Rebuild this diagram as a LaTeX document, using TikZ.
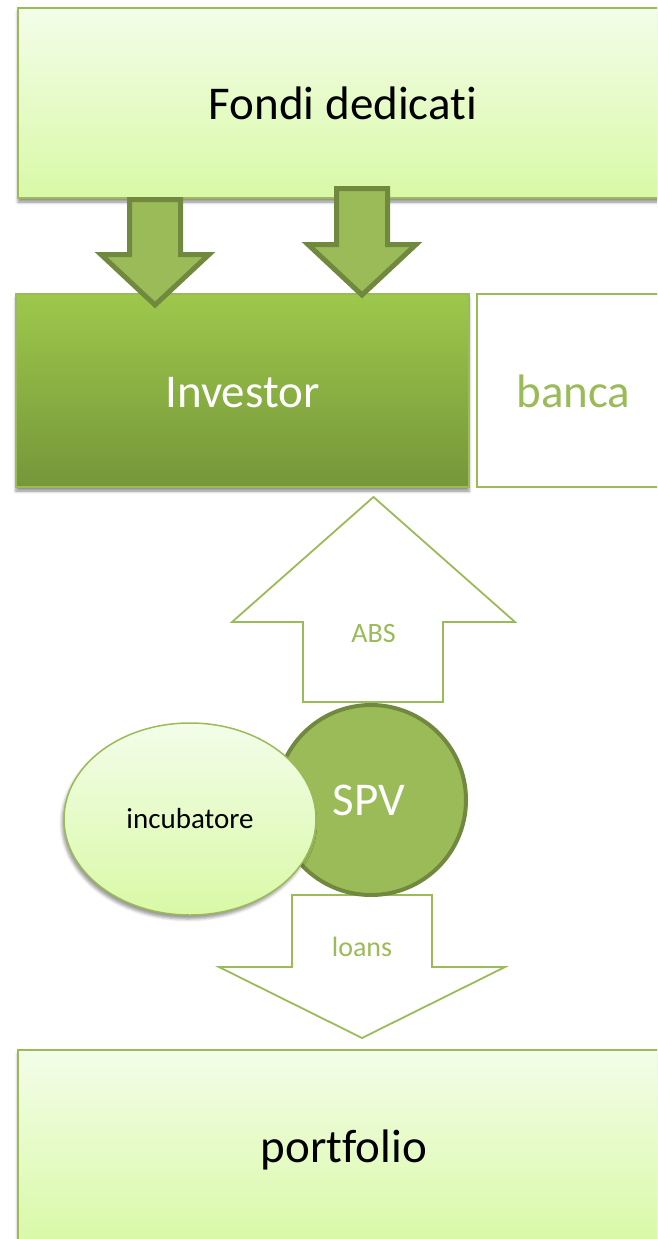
\documentclass[tikz,border=0pt]{standalone}
\usepackage{fontspec}
\setmainfont{Carlito}[Ligatures={NoCommon,NoContextual}]
\usetikzlibrary{shadows.blur,shapes.geometric}
\definecolor{lgtop}{HTML}{F3FDE9}
\definecolor{lgbot}{HTML}{D9F9A6}
\definecolor{gborder}{HTML}{9BBB59}
\definecolor{gdark}{HTML}{71893F}
\definecolor{gfill}{HTML}{9BBB59}
\definecolor{invtop}{HTML}{9DC84B}
\definecolor{invbot}{HTML}{76963A}
\begin{document}
\begin{tikzpicture}[x=1pt,y=-1pt,
  boxshadow/.style={blur shadow={shadow xshift=0pt, shadow yshift=-4pt, shadow blur radius=3pt, shadow opacity=45}},
  lightbox/.style={rectangle, draw=gborder, line width=1.5pt, top color=lgtop, bottom color=lgbot, inner sep=0pt, boxshadow},
  invbox/.style={rectangle, draw=gborder, line width=1.5pt, top color=invtop, bottom color=invbot, inner sep=0pt, boxshadow},
  whitebox/.style={rectangle, draw=gborder, line width=1.5pt, fill=white, inner sep=0pt},
  bigtext/.style={font=\fontsize{47}{56}\selectfont, inner sep=0pt, anchor=base},
  smalltext/.style={font=\fontsize{28}{34}\selectfont, inner sep=0pt, anchor=base, text=gborder},
  fatarrow/.style={draw=gdark, fill=gfill, line width=5pt, line join=miter},
  thinarrow/.style={draw=gborder, fill=white, line width=1.8pt, line join=miter},
]
\useasboundingbox (0,0) rectangle (657,1239);
\clip (0,0) rectangle (657,1239);

% boxes
\node[lightbox, minimum width=652pt, minimum height=190pt] (fondi) at (344,103) {};
\node[bigtext] (fonditext) at (343,119) {Fondi dedicati};

\node[invbox, minimum width=453pt, minimum height=193pt] (investor) at (242.5,390.5) {};
\node[bigtext, text=white] (investortext) at (242.5,407) {Investor};

\node[whitebox, minimum width=193pt, minimum height=193pt] (banca) at (573.5,390.5) {};
\node[bigtext, text=gborder] (bancatext) at (573.5,407) {banca};

\node[lightbox, minimum width=652pt, minimum height=195pt] (portfolio) at (344,1147.5) {};
\node[bigtext] (portfoliotext) at (344,1162) {portfolio};

% fat arrows from Fondi to Investor
\path[fatarrow] (129.5,199.5) -- (180.5,199.5) -- (180.5,254.5) -- (209,254.5) -- (155,305) -- (101,254.5) -- (129.5,254.5) -- cycle;
\path[fatarrow] (336.5,188.5) -- (387.5,188.5) -- (387.5,244.5) -- (416,244.5) -- (362,295) -- (308,244.5) -- (336.5,244.5) -- cycle;

% ABS arrow (up)
\path[thinarrow] (373.5,497) -- (515,622) -- (443,622) -- (443,702) -- (303,702) -- (303,622) -- (232,622) -- cycle;
\node[smalltext] (abs) at (373.5,642) {ABS};

% loans arrow (down)
\path[thinarrow] (292,895) -- (432,895) -- (432,967) -- (505,967) -- (362,1038) -- (219,967) -- (292,967) -- cycle;
\node[smalltext] (loans) at (362,956) {loans};

% SPV and incubatore
\node[circle, draw=gdark, fill=gfill, line width=4pt, minimum size=190pt, inner sep=0pt] (spv) at (371,800) {};
\node[bigtext, text=white] (spvtext) at (369,815) {SPV};

\node[ellipse, draw=gborder, line width=1.5pt, top color=lgtop, bottom color=lgbot, minimum width=252pt, minimum height=192pt, inner sep=0pt, blur shadow={shadow xshift=-2pt, shadow yshift=-4pt, shadow blur radius=3pt, shadow opacity=40}] (incub) at (190,819) {};
\node[font=\fontsize{29}{35}\selectfont, inner sep=0pt, anchor=base] (incubtext) at (190,828) {incubatore};
\end{tikzpicture}
\end{document}
